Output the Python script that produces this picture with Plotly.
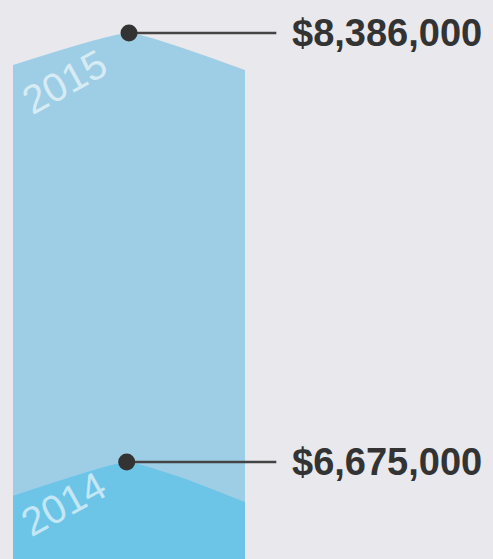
import plotly.graph_objects as go

# ---- data ----
years = ["2014", "2015"]
totals = [6675000, 8386000]
label_text = ["$6,675,000", "$8,386,000"]
# band profile (left edge, peak, ..., right edge) for each year
profile_x = {"2014": [0, 0.49, 0.72, 1], "2015": [0, 0.5, 1]}
profile_y = {"2014": [6540000, 6675000, 6615000, 6515000],
             "2015": [8258000, 8386000, 8238000]}
fill_colors = {"2014": "#6cc4e7", "2015": "#9dcee6"}

BG = "#e9e8ed"
W, H = 493, 559

fig = go.Figure()
# draw 2015 first (back), then 2014 in front
for yr in ["2015", "2014"]:
    fig.add_trace(go.Scatter(
        x=profile_x[yr], y=profile_y[yr], mode="lines",
        line=dict(width=0, color=fill_colors[yr],
                  shape="spline", smoothing=0.4),
        fill="tozeroy", fillcolor=fill_colors[yr],
        hoverinfo="skip", showlegend=False))

label_x_end = 1.135
for i, yr in enumerate(years):
    px = profile_x[yr][1]
    val = totals[i]
    fig.add_trace(go.Scatter(
        x=[px, label_x_end], y=[val, val], mode="lines",
        line=dict(color="#444444", width=2.5),
        hoverinfo="skip", showlegend=False))
    fig.add_trace(go.Scatter(
        x=[px], y=[val], mode="markers",
        marker=dict(size=17, color="#333333"),
        hoverinfo="skip", showlegend=False))
    fig.add_annotation(
        x=label_x_end + 0.06, y=val, xref="x", yref="y",
        text=label_text[i], showarrow=False, xanchor="left", yanchor="middle",
        font=dict(family="Liberation Sans, Arial, sans-serif", size=38,
                  color="#333333", weight="bold"))

# rotated year labels on the bands
year_pos = {"2015": (64, 82), "2014": (63, 504)}
for yr in years:
    cx, cy = year_pos[yr]
    fig.add_annotation(
        x=cx / W, y=1 - cy / H, xref="paper", yref="paper",
        text=yr, showarrow=False, textangle=-29,
        xanchor="center", yanchor="middle",
        font=dict(family="Liberation Sans, Arial, sans-serif", size=40,
                  color="rgba(255,255,255,0.6)"))

px_per_unit = 232.0
fig.update_xaxes(range=[-13 / px_per_unit, (W - 13) / px_per_unit],
                 visible=False, fixedrange=True)
fig.update_yaxes(range=[6288000, 8517600], visible=False, fixedrange=True)
fig.update_layout(
    width=W, height=H, margin=dict(l=0, r=0, t=0, b=0),
    paper_bgcolor=BG, plot_bgcolor=BG, showlegend=False)

fig.write_html("out.html", config={"displayModeBar": False},
               post_script="document.body.style.margin='0';")
